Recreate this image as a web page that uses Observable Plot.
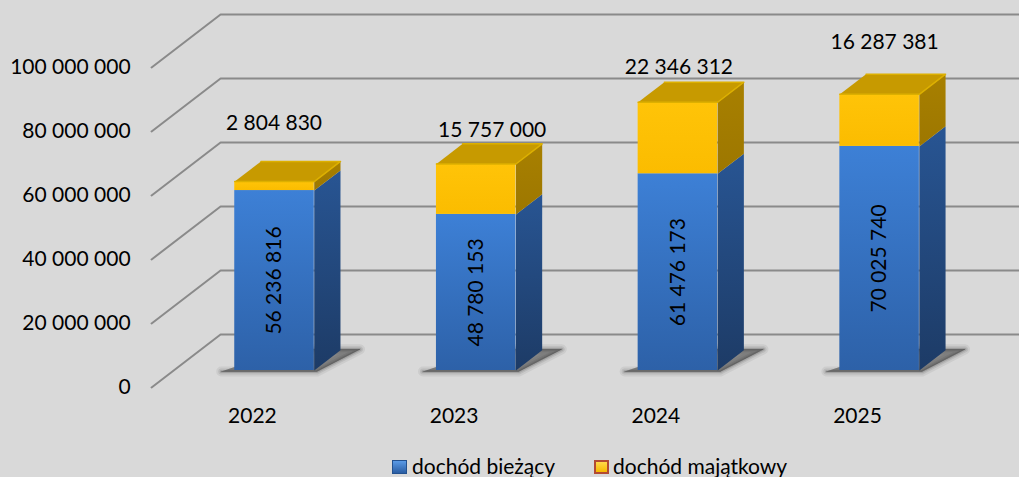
<!DOCTYPE html>
<html><head><meta charset="utf-8">
<script src="https://cdn.jsdelivr.net/npm/d3@7"></script>
<script src="https://cdn.jsdelivr.net/npm/@observablehq/plot@0.6"></script>
<style>
html,body{margin:0;padding:0;background:#d9d9d9;}
#wrap{width:1019px;height:477px;overflow:hidden;position:relative;background:#d9d9d9;font-family:Lato,sans-serif;}
#legend{position:relative;height:29px;font-size:21px;color:#000;}
#legend .item{position:absolute;top:5px;line-height:25px;white-space:nowrap;}
#legend .sw{position:absolute;top:12px;width:15px;height:14px;box-sizing:border-box;}
</style></head><body><div id="wrap"><div id="chart"></div><div id="legend"></div></div>
<script>
// ---- data ----
const years = ["2022", "2023", "2024", "2025"];
const biezacy = [56236816, 48780153, 61476173, 70025740];
const majatkowy = [2804830, 15757000, 22346312, 16287381];
const yTicks = [0, 20000000, 40000000, 60000000, 80000000, 100000000];
const seriesNames = ["dochód bieżący", "dochód majątkowy"];

// ---- layout constants (pixels) ----
const W = 1019, H = 448;
const X0 = 274, XSTEP = 201.7;      // bar front centers
const Y0 = 370, PX = 3.2e-6;        // px per unit value at bar front plane
const T_FRONT = 0.32, T_BACK = 0.70; // depth positions (0 = floor front, 1 = back wall)
const KX = 69 / XSTEP, KY = 53 / PX; // full depth vector in data units
const HALF = 39.75 / XSTEP;
const capDxPx = [-0.5, 16, 1, 5];
const capLiftPx = [58, 34, 35, 52];

const fmt = d3.formatLocale({thousands: " ", grouping: [3], decimal: ","}).format(",d");
const P = (ix, v, t) => ({x: ix + (t - T_FRONT) * KX, y: v + (t - T_FRONT) * KY});

// gridlines
const grid = [];
yTicks.forEach((v, k) => {
  [P(-0.5, v, 0), P(-0.5, v, 1), P(3.7, v, 1)].forEach(p => grid.push({...p, k}));
});

// segments
const segs = [];
years.forEach((yr, i) => {
  segs.push({i, s: 0, lo: 0, hi: biezacy[i], top: false});
  segs.push({i, s: 1, lo: biezacy[i], hi: biezacy[i] + majatkowy[i], top: true});
});

const sidePoly = s => {
  const xr = s.i + HALF;
  return [P(xr, s.lo, T_FRONT), P(xr, s.lo, T_BACK), P(xr, s.hi, T_BACK), P(xr, s.hi, T_FRONT)]
    .map(p => ({...p, id: s.i + "-" + s.s}));
};
const topPoly = s => {
  const xl = s.i - HALF, xr = s.i + HALF;
  return [P(xl, s.hi, T_FRONT), P(xr, s.hi, T_FRONT), P(xr, s.hi, T_BACK), P(xl, s.hi, T_BACK)]
    .map(p => ({...p, id: s.i}));
};
const shadowPoly = i => {
  const xl = i - HALF, xr = i + HALF;
  return [P(xl - 0.06, 0, T_FRONT - 0.02), P(xr + 0.02, 0, T_FRONT - 0.02),
          P(xr + 0.09, 0, T_BACK + 0.02), P(xl + 0.12, 0, T_BACK + 0.02)]
    .map(p => ({...p, id: "s" + i}));
};

const blueSide = segs.filter(s => s.s === 0).flatMap(sidePoly);
const yelSide = segs.filter(s => s.s === 1).flatMap(sidePoly);
const tops = segs.filter(s => s.top).flatMap(topPoly);
const shadows = years.flatMap((y, i) => shadowPoly(i));

const xLabels = years.map((y, i) => ({...P(i, 0, 0), text: y}));
const yLabels = yTicks.map(v => ({...P(-0.5, v, 0), text: fmt(v)}));
const blueLabels = years.map((y, i) => ({x: i, y: biezacy[i] / 2, text: fmt(biezacy[i])}));
const capLabels = years.map((y, i) => ({
  x: i + capDxPx[i] / XSTEP,
  y: biezacy[i] + majatkowy[i] + capLiftPx[i] / PX,
  text: fmt(majatkowy[i])
}));

const shadowLayers = [[10, 0.07], [6, 0.1], [3, 0.15], [1, 0.25]].map(([w, o]) =>
  Plot.line(shadows, {x: "x", y: "y", z: "id", fill: "#262626", fillOpacity: o, stroke: "#262626", strokeOpacity: o, strokeWidth: w, strokeLinejoin: "round"})
);

const plot = Plot.plot({
  width: W, height: H, margin: 0,
  style: {background: "transparent", fontFamily: "Lato, sans-serif", fontSize: "21px", color: "#000"},
  x: {type: "linear", domain: [0, 3], range: [X0, X0 + 3 * XSTEP], axis: null},
  y: {type: "linear", domain: [0, 1e8], range: [Y0, Y0 - 1e8 * PX], axis: null},
  marks: [
    Plot.line(grid, {x: "x", y: "y", z: "k", stroke: "#8a8a8a", strokeWidth: 2}),
    ...shadowLayers,
    Plot.line(blueSide, {x: "x", y: "y", z: "id", fill: "url(#gBlueSide)", stroke: "none"}),
    Plot.rect(segs.filter(s => s.s === 0), {x1: d => d.i - HALF, x2: d => d.i + HALF, y1: "lo", y2: "hi", fill: "url(#gBlueFront)", inset: 0}),
    Plot.line(yelSide, {x: "x", y: "y", z: "id", fill: "url(#gYelSide)", stroke: "none"}),
    Plot.rect(segs.filter(s => s.s === 1), {x1: d => d.i - HALF, x2: d => d.i + HALF, y1: "lo", y2: "hi", fill: "url(#gYelFront)", inset: 0}),
    Plot.line(tops, {x: "x", y: "y", z: "id", fill: "#c79a00", stroke: "#ddb000", strokeWidth: 1.5, strokeLinejoin: "round"}),
    Plot.text(yLabels, {x: "x", y: "y", text: "text", textAnchor: "end", dx: -21, fontSize: 21, fill: "#000"}),
    Plot.text(xLabels, {x: "x", y: "y", text: "text", dy: 29, fontSize: 21, fill: "#000"}),
    Plot.text(blueLabels, {x: "x", y: "y", text: "text", rotate: -90, fontSize: 21, fill: "#000"}),
    Plot.text(capLabels, {x: "x", y: "y", text: "text", fontSize: 21, fill: "#000"})
  ]
});

const svg = d3.select(plot);
const defs = svg.insert("defs", ":first-child");
const grad = (id, c1, c2) => {
  const g = defs.append("linearGradient").attr("id", id).attr("x1", 0).attr("y1", 0).attr("x2", 0).attr("y2", 1);
  g.append("stop").attr("offset", "0%").attr("stop-color", c1);
  g.append("stop").attr("offset", "100%").attr("stop-color", c2);
};
grad("gBlueFront", "#3d80d6", "#2d61a8");
grad("gBlueSide", "#285593", "#1d3b66");
grad("gYelFront", "#ffc408", "#fbbc00");
grad("gYelSide", "#a88000", "#9d7700");

document.getElementById("chart").appendChild(plot);

// legend
const lg = document.getElementById("legend");
const items = [
  {name: seriesNames[0], sw: 392, tx: 412, bg: "linear-gradient(#5a9ae6,#2a5da3)", border: "1.5px solid #23518f"},
  {name: seriesNames[1], sw: 594, tx: 613, bg: "linear-gradient(#ffd84a,#f5b800)", border: "2px solid #b24a32"}
];
items.forEach(it => {
  const s = document.createElement("div");
  s.className = "sw"; s.style.left = it.sw + "px"; s.style.background = it.bg; s.style.border = it.border;
  lg.appendChild(s);
  const t = document.createElement("div");
  t.className = "item"; t.style.left = it.tx + "px"; t.textContent = it.name;
  lg.appendChild(t);
});
</script></body></html>
